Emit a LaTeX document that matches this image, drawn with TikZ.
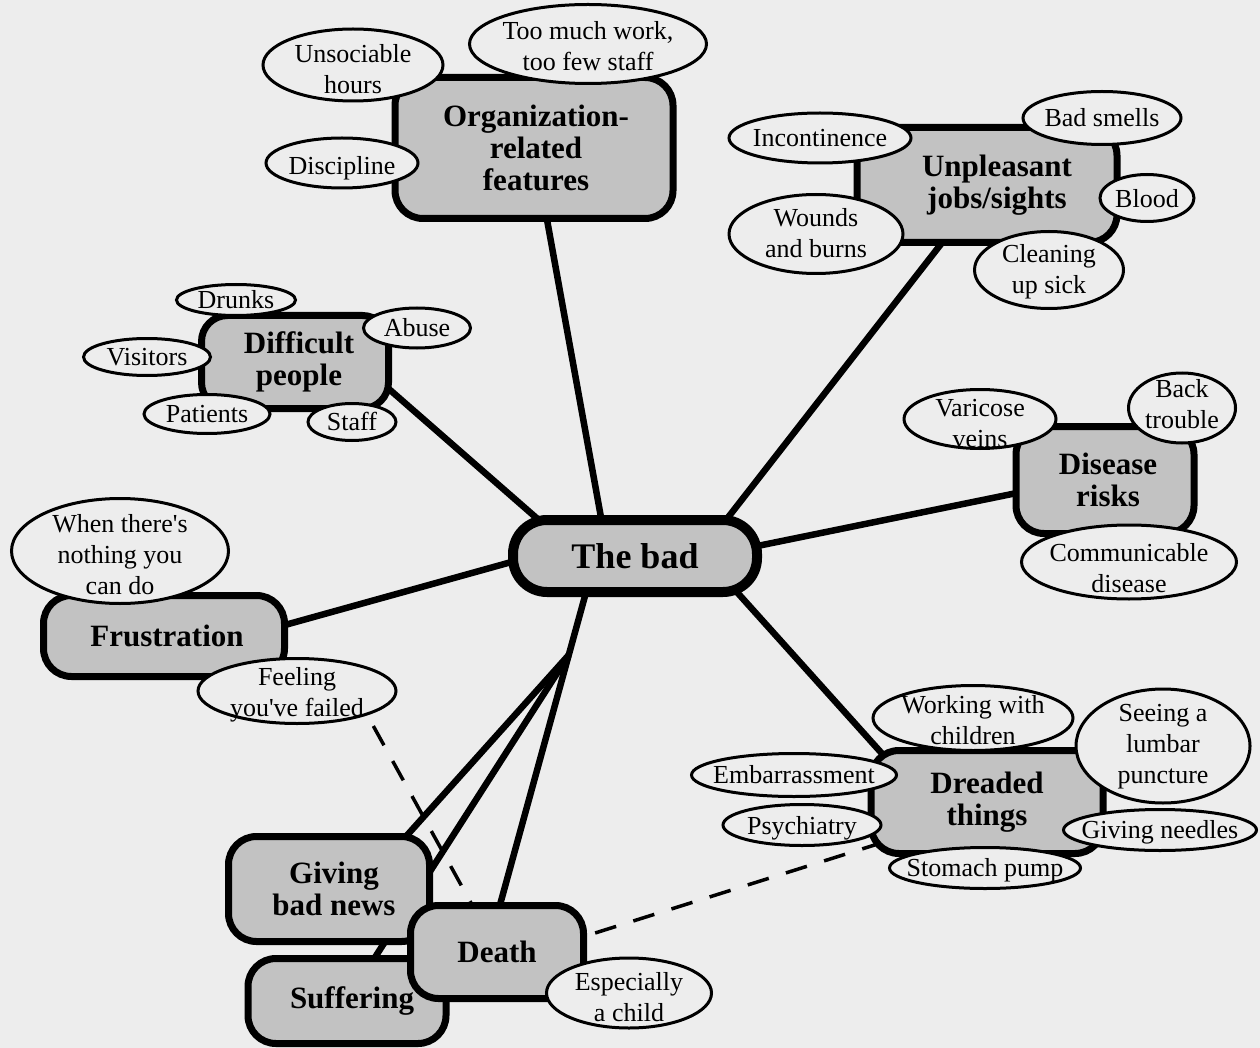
\documentclass[tikz,border=0pt]{standalone}
\usepackage{fontspec}
\setmainfont{Liberation Serif}
\usetikzlibrary{shapes.geometric,calc}
\definecolor{paper}{RGB}{237,237,237}
\definecolor{screen}{RGB}{194,194,194}
\pgfdeclarelayer{paperlayer}
\pgfdeclarelayer{linklayer}
\pgfsetlayers{paperlayer,linklayer,main}
% centred, zero-size label so that an ellipse takes exactly its minimum size;
% the optional argument lowers the text by that many points
\newcommand\lbl[2][0]{\makebox[0pt]{\raisebox{\dimexpr-8.5pt-#1pt\relax}[0pt][0pt]{\begin{tabular}{@{}c@{}}#2\end{tabular}}}}
\newcommand\apos{\textquotesingle}

\tikzset{
  sz/.style 2 args={minimum width=#1pt, minimum height=#2pt},
  topic/.style={rectangle, draw, line width=7pt, rounded corners=28pt, fill=screen,
    inner sep=0pt, align=center, font=\fontsize{31}{32}\selectfont\bfseries},
  leaf/.style={ellipse, draw, line width=3pt, fill=paper, inner sep=0pt,
    font=\fontsize{26}{31}\selectfont},
  link/.style={line width=6.5pt},
  hint/.style={line width=3.5pt, dash pattern=on 22pt off 18pt},
}

\begin{document}
\begin{tikzpicture}[x=1pt,y=-1pt]
\useasboundingbox (0,0) rectangle (1260,1048);
\begin{pgfonlayer}{paperlayer}
  \fill[paper] (0,0) rectangle (1260,1048);
\end{pgfonlayer}

% central topic
\node[topic, line width=10pt, rounded corners=34pt, sz={244}{72},
      font=\fontsize{36}{40}\selectfont\bfseries] (bad) at (635,556) {The bad};

% sub-topics
\node[topic, sz={278}{141}] (org)   at (534,148)  {\hspace*{4pt}Organization-\\\hspace*{4pt}related\\\hspace*{4pt}features};
\node[topic, sz={260}{115}] (unp)   at (987,185)  {\hspace*{20pt}Unpleasant\\\hspace*{20pt}jobs/sights};
\node[topic, sz={187}{93}, rounded corners=26pt] (diff) at (295,362) {\hspace*{8pt}Difficult\\\hspace*{8pt}people};
\node[topic, sz={241}{81}]  (frus)  at (164,636)  {\hspace*{6pt}Frustration};
\node[topic, sz={178}{107}] (dis)   at (1105,480) {\hspace*{6pt}Disease\\\hspace*{6pt}risks};
\node[topic, sz={232}{103}] (dread) at (987,802)  {Dreaded\\things};
\node[topic, sz={201}{105}] (gbn)   at (329,889)  {\hspace*{10pt}Giving\\\hspace*{10pt}bad news};
\node[topic, sz={198}{85}]  (suff)  at (347,1001) {\hspace*{10pt}Suffering};
\node[topic, sz={173}{93}]  (death) at (497,952)  {Death};

% examples
\node[leaf, sz={180}{72}]  (unsoc)    at (353,65)   {\lbl[5]{Unsociable\\hours}};
\node[leaf, sz={237}{79}]  (toomuch)  at (588,44)   {\lbl[3]{Too much work,\\too few staff}};
\node[leaf, sz={152}{50}]  (discip)   at (342,163)  {\lbl[3]{Discipline}};
\node[leaf, sz={182}{50}]  (incont)   at (820,138)  {\lbl{Incontinence}};
\node[leaf, sz={158}{53}]  (badsm)    at (1102,118) {\lbl{Bad smells}};
\node[leaf, sz={94}{47}]   (blood)    at (1147,198) {\lbl[1]{Blood}};
\node[leaf, sz={174}{79}]  (wounds)   at (816,234)  {\lbl{Wounds\\and burns}};
\node[leaf, sz={149}{77}]  (cleaning) at (1049,270) {\lbl{Cleaning\\up sick}};
\node[leaf, sz={119}{31}]  (drunks)   at (236,300)  {\lbl{Drunks}};
\node[leaf, sz={107}{40}]  (abuse)    at (417,328)  {\lbl{Abuse}};
\node[leaf, sz={127}{37}]  (visitors) at (147,357)  {\lbl{Visitors}};
\node[leaf, sz={126}{39}]  (patients) at (207,414)  {\lbl{Patients}};
\node[leaf, sz={88}{37}]   (staff)    at (352,422)  {\lbl{Staff}};
\node[leaf, sz={217}{105}] (nothing)  at (120,551)  {\lbl[4]{When there\apos s\\nothing you\\can do}};
\node[leaf, sz={198}{65}]  (failed)   at (297,691)  {\lbl[2]{Feeling\\you\apos ve failed}};
\node[leaf, sz={152}{59}]  (varicose) at (980,419)  {\lbl[5]{Varicose\\veins}};
\node[leaf, sz={107}{70}]  (back)     at (1182,408) {\lbl[-3]{Back\\trouble}};
\node[leaf, sz={215}{74}]  (commun)   at (1129,562) {\lbl[7]{Communicable\\disease}};
\node[leaf, sz={200}{65}]  (working)  at (973,718)  {\lbl[3]{Working with\\children}};
\node[leaf, sz={174}{114}] (seeing)   at (1163,746) {\lbl[-2]{Seeing a\\lumbar\\puncture}};
\node[leaf, sz={205}{43}]  (embarr)   at (794,775)  {\lbl{Embarrassment}};
\node[leaf, sz={158}{41}]  (psych)    at (802,825)  {\lbl[1]{Psychiatry}};
\node[leaf, sz={193}{41}]  (needles)  at (1160,830) {\lbl{Giving needles}};
\node[leaf, sz={191}{41}]  (stomach)  at (985,868)  {\lbl{Stomach pump}};
\node[leaf, sz={165}{70}]  (child)    at (629,993)  {\lbl[5]{Especially\\a child}};

% connectors, kept under the boxes
\begin{pgfonlayer}{linklayer}
  \draw[link] (org.center) -- ($(bad.center)+(-27,0)$);
  \draw[link] ($(diff.center)+(39,-21)$) -- ($(bad.center)+(-55,0)$);
  \draw[link] (unp.center) -- ($(bad.center)+(63,0)$);
  \draw[link] ($(bad.center)+(0,15)$) -- ($(dis.center)+(0,-5)$);
  \draw[link] ($(bad.center)+(-75,-7.5)$) -- ($(frus.center)+(76,1.5)$);
  \draw[link] ($(bad.center)+(65,-5)$) -- ($(dread.center)+(-66,-5)$);
  \draw[link] ($(bad.center)+(-39,0)$) -- coordinate[pos=0.25] (fork) ($(death.center)+(-10,0)$);
  \draw[link] (fork) -- ($(gbn.center)+(46,-18)$);
  \draw[link] (fork) -- (suff.center);
  \draw[hint] ($(failed.center)+(57,0)$) -- ($(death.center)+(-10,-20)$);
  \draw[hint] ($(death.center)+(60,-7)$) -- ($(dread.center)+(-87,35)$);
\end{pgfonlayer}
\end{tikzpicture}
\end{document}
